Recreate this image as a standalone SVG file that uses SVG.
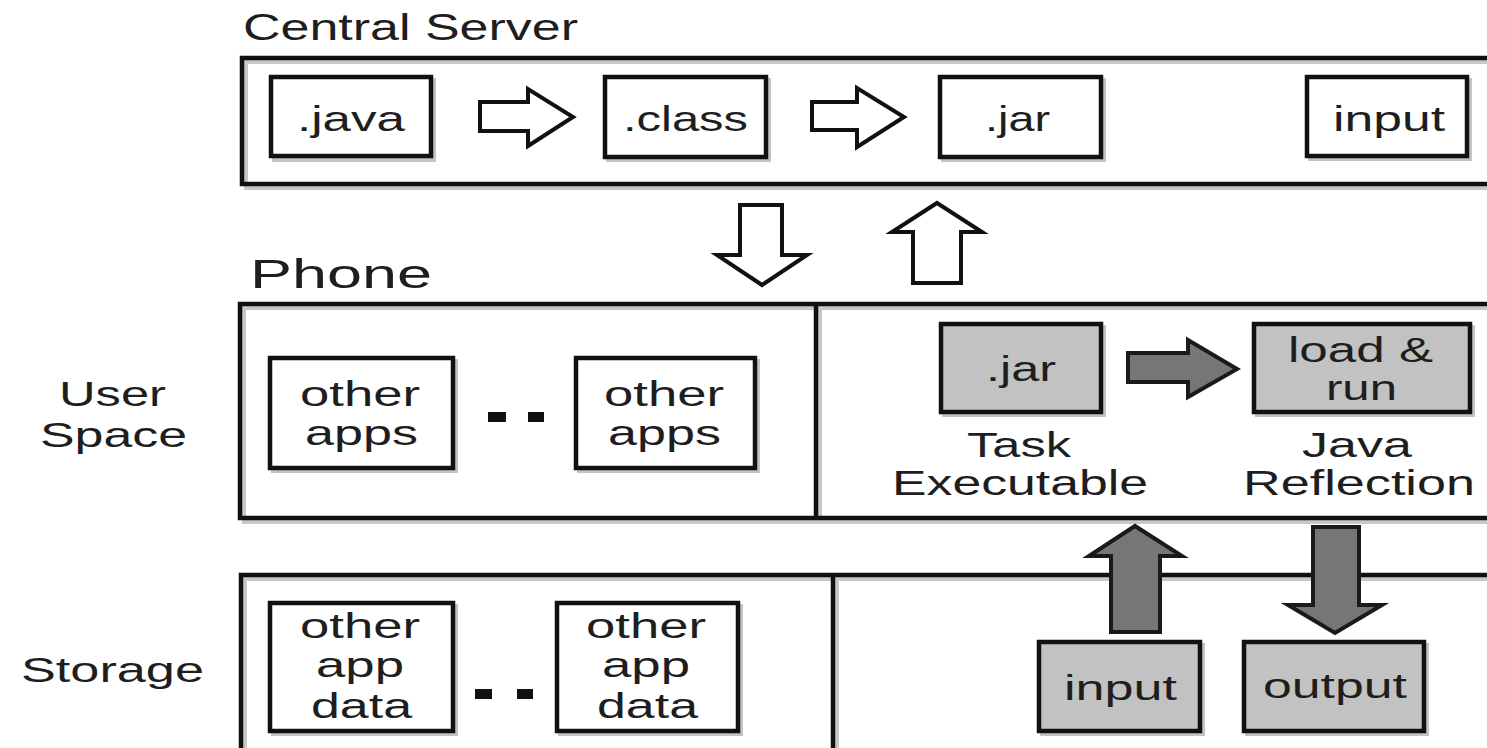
<svg xmlns="http://www.w3.org/2000/svg" width="1487" height="748" viewBox="0 0 1487 748">
  <style>
    .frame { fill: none; stroke: #111; stroke-width: 4.5; }
    .frame-sh { fill: none; stroke: #c8c8c8; stroke-width: 4; }
    .box { fill: #fff; stroke: #111; stroke-width: 4.5; }
    .gbox { fill: #c2c2c2; stroke: #111; stroke-width: 4.5; }
    .sh { fill: none; stroke: #c4c4c4; stroke-width: 4; }
    .warrow { fill: #fff; stroke: #111; stroke-width: 4; stroke-linejoin: miter; }
    .garrow { fill: #767676; stroke: #1a1a1a; stroke-width: 4; stroke-linejoin: miter; }
    .dot { fill: #111; }
    text { font-family: "Liberation Sans", Arial, sans-serif; fill: #1e1e1e; lengthAdjust: spacingAndGlyphs; }
    .t { font-size: 35px; }
    .title { font-size: 36px; }
    .phone { font-size: 41px; }
  </style>

  <rect x="0" y="0" width="1487" height="748" fill="#fff"/>

  <!-- Central Server section -->
  <g id="central-server">
    <path class="frame-sh" d="M1487,62 H246 V188 H1487"/>
    <path class="frame" d="M1487,58 H242 V184 H1487"/>
    <text class="title" x="243" y="40" textLength="335" lengthAdjust="spacingAndGlyphs">Central Server</text>
  </g>
  <g id="cs-java">
    <rect class="sh" x="274" y="80" width="160" height="80"/>
    <rect class="box" x="271" y="77" width="160" height="79"/>
    <text class="t" x="297" y="131" textLength="108" lengthAdjust="spacingAndGlyphs">.java</text>
  </g>
  <g id="cs-class">
    <rect class="sh" x="608" y="80" width="161" height="80"/>
    <rect class="box" x="605" y="77" width="161" height="80"/>
    <text class="t" x="623" y="131" textLength="125" lengthAdjust="spacingAndGlyphs">.class</text>
  </g>
  <g id="cs-jar">
    <rect class="sh" x="943" y="80" width="161" height="80"/>
    <rect class="box" x="940" y="77" width="161" height="80"/>
    <text class="t" x="985" y="131" textLength="65" lengthAdjust="spacingAndGlyphs">.jar</text>
  </g>
  <g id="cs-input">
    <rect class="sh" x="1310" y="80" width="160" height="79"/>
    <rect class="box" x="1307" y="77" width="160" height="79"/>
    <text class="t" x="1333" y="131" textLength="112" lengthAdjust="spacingAndGlyphs">input</text>
  </g>

  <!-- Phone section -->
  <g id="phone">
    <text class="phone" x="250" y="288" textLength="182" lengthAdjust="spacingAndGlyphs">Phone</text>
  </g>
  <g id="user-space">
    <path class="frame-sh" d="M1487,308 H244 V522 H1487 M820,308 V522"/>
    <path class="frame" d="M1487,304 H240 V518 H1487 M816,304 V518"/>
    <text class="t" x="59" y="406" textLength="107" lengthAdjust="spacingAndGlyphs">User</text>
    <text class="t" x="40" y="447" textLength="147" lengthAdjust="spacingAndGlyphs">Space</text>
    <rect class="dot" x="488" y="412" width="18" height="10"/>
    <rect class="dot" x="528" y="412" width="16" height="10"/>
  </g>
  <g id="apps-1">
    <rect class="sh" x="273" y="361" width="183" height="110"/>
    <rect class="box" x="270" y="358" width="183" height="110"/>
    <text class="t" x="300" y="406" textLength="120" lengthAdjust="spacingAndGlyphs">other</text>
    <text class="t" x="305" y="445" textLength="113" lengthAdjust="spacingAndGlyphs">apps</text>
  </g>
  <g id="apps-2">
    <rect class="sh" x="579" y="361" width="179" height="110"/>
    <rect class="box" x="576" y="358" width="179" height="110"/>
    <text class="t" x="604" y="406" textLength="120" lengthAdjust="spacingAndGlyphs">other</text>
    <text class="t" x="608" y="445" textLength="113" lengthAdjust="spacingAndGlyphs">apps</text>
  </g>
  <g id="task-jar">
    <rect class="sh" x="944" y="327" width="160" height="88"/>
    <rect class="gbox" x="941" y="324" width="160" height="88"/>
    <text class="t" x="986" y="381" textLength="70" lengthAdjust="spacingAndGlyphs">.jar</text>
    <text class="t" x="967" y="457" textLength="104" lengthAdjust="spacingAndGlyphs">Task</text>
    <text class="t" x="892" y="495" textLength="256" lengthAdjust="spacingAndGlyphs">Executable</text>
  </g>
  <g id="load-run">
    <rect class="sh" x="1257" y="327" width="216" height="88"/>
    <rect class="gbox" x="1254" y="324" width="216" height="88"/>
    <text class="t" x="1288" y="362" textLength="145" lengthAdjust="spacingAndGlyphs">load &amp;</text>
    <text class="t" x="1326" y="400" textLength="71" lengthAdjust="spacingAndGlyphs">run</text>
    <text class="t" x="1302" y="457" textLength="110" lengthAdjust="spacingAndGlyphs">Java</text>
    <text class="t" x="1243" y="495" textLength="232" lengthAdjust="spacingAndGlyphs">Reflection</text>
  </g>

  <!-- Storage section -->
  <g id="storage">
    <path class="frame-sh" d="M1487,579 H245 V748 M837,579 V748"/>
    <path class="frame" d="M1487,575 H241 V748 M833,575 V748"/>
    <text class="t" x="21" y="682" textLength="183" lengthAdjust="spacingAndGlyphs">Storage</text>
    <rect class="dot" x="475" y="689" width="17" height="10"/>
    <rect class="dot" x="517" y="689" width="16" height="10"/>
  </g>
  <g id="data-1">
    <rect class="sh" x="273" y="606" width="183" height="128"/>
    <rect class="box" x="270" y="603" width="183" height="128"/>
    <text class="t" x="300" y="638" textLength="120" lengthAdjust="spacingAndGlyphs">other</text>
    <text class="t" x="316" y="677" textLength="88" lengthAdjust="spacingAndGlyphs">app</text>
    <text class="t" x="311" y="718" textLength="101" lengthAdjust="spacingAndGlyphs">data</text>
  </g>
  <g id="data-2">
    <rect class="sh" x="560" y="606" width="181" height="128"/>
    <rect class="box" x="557" y="603" width="181" height="128"/>
    <text class="t" x="586" y="638" textLength="120" lengthAdjust="spacingAndGlyphs">other</text>
    <text class="t" x="602" y="677" textLength="88" lengthAdjust="spacingAndGlyphs">app</text>
    <text class="t" x="597" y="718" textLength="101" lengthAdjust="spacingAndGlyphs">data</text>
  </g>
  <g id="store-input">
    <rect class="sh" x="1042" y="645" width="161" height="89"/>
    <rect class="gbox" x="1039" y="642" width="161" height="89"/>
    <text class="t" x="1064" y="700" textLength="113" lengthAdjust="spacingAndGlyphs">input</text>
  </g>
  <g id="store-output">
    <rect class="sh" x="1247" y="645" width="180" height="89"/>
    <rect class="gbox" x="1244" y="642" width="180" height="89"/>
    <text class="t" x="1263" y="698" textLength="144" lengthAdjust="spacingAndGlyphs">output</text>
  </g>

  <!-- Connectors: block arrows -->
  <g id="connectors">
    <polygon class="warrow" points="480,102 528,102 528,89 573,117 528,146 528,131 480,131"/>
    <polygon class="warrow" points="812,102 857,102 857,88 904,117 857,147 857,130 812,130"/>
    <polygon class="warrow" points="740,205 782,205 782,255 807,255 762,285 717,255 740,255"/>
    <polygon class="warrow" points="937,203 982,232 961,232 961,283 913,283 913,232 892,232"/>
    <polygon class="garrow" points="1128,353 1188,353 1188,340 1237,369 1188,397 1188,382 1128,382"/>
    <polygon class="garrow" points="1135,526 1182,556 1160,556 1160,632 1111,632 1111,556 1089,556"/>
    <polygon class="garrow" points="1313,527 1359,527 1359,605 1382,605 1335,633 1288,605 1313,605"/>
  </g>
</svg>
